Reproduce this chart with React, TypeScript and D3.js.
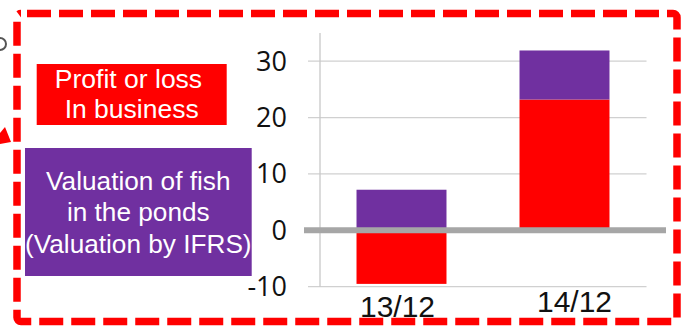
import React from "react";
import * as d3 from "d3";

// Data
const periods = ["13/12", "14/12"];
const profitLoss = [-9.5, 23.2];
const fishValuation = [7.2, 8.7];
const yTicks = [-10, 0, 10, 20, 30];
const seriesKeys = ["profitLoss", "fishValuation"];
const seriesColors = ["#ff0000", "#7030a0"];
const profitLabel = ["Profit or loss", "In business"];
const valuationLabel = ["Valuation of fish", "in the ponds", "(Valuation by IFRS)"];

const W = 686;
const H = 326;

export default function App() {
  const rows = periods.map((p, i) => ({
    period: p,
    profitLoss: profitLoss[i],
    fishValuation: fishValuation[i],
  }));

  const stacked = d3
    .stack<any>()
    .keys(seriesKeys)
    .offset(d3.stackOffsetDiverging)(rows);

  const x = d3
    .scaleBand<string>()
    .domain(periods)
    .range([320, 646])
    .paddingInner(0.448)
    .paddingOuter(0.224);

  const y = d3.scaleLinear().domain([-10, 35]).range([286.7, 33]);

  const tickFont = "'Open Sans', 'Liberation Sans', sans-serif";
  const textFont = "'Liberation Sans', Arial, sans-serif";

  // small per-category nudges of the period labels
  const labelShift = [
    { dx: -4, dy: 5 },
    { dx: 10, dy: 0 },
  ];

  return (
    <div style={{ position: "absolute", left: 0, top: 0 }}>
      <svg width={W} height={H} style={{ display: "block", background: "#fff" }}>
        {/* stray pieces at the left edge */}
        <path d="M0,38 A6,6 0 0 1 0,50" fill="none" stroke="#555" strokeWidth={2} />
        <polygon points="0,133 5,127 11,142 0,144" fill="#ff0000" />

        {/* grid lines */}
        {yTicks
          .filter((t) => t !== 0)
          .map((t) => (
            <line
              key={t}
              x1={308}
              x2={646.5}
              y1={y(t)}
              y2={y(t)}
              stroke="#d0d0d0"
              strokeWidth={1.3}
            />
          ))}
        {/* vertical axis */}
        <line x1={320} x2={320} y1={y(35)} y2={y(-10)} stroke="#c8c8c8" strokeWidth={1.3} />

        {/* tick labels */}
        {yTicks.map((t) => (
          <text
            key={t}
            x={287}
            y={y(t) + 9.5}
            textAnchor="end"
            fontFamily={tickFont}
            fontSize={27}
            fill="#111"
          >
            {t}
          </text>
        ))}

        {/* stacked bars */}
        {stacked.map((s, si) =>
          s.map((d, i) => (
            <rect
              key={`${si}-${i}`}
              x={x(periods[i])}
              width={x.bandwidth()}
              y={y(Math.max(d[0], d[1]))}
              height={Math.abs(y(d[0]) - y(d[1]))}
              fill={seriesColors[si]}
            />
          ))
        )}

        {/* zero line */}
        <line x1={304} x2={666} y1={y(0)} y2={y(0)} stroke="#a6a6a6" strokeWidth={6} />

        {/* period labels */}
        {periods.map((p, i) => (
          <text
            key={p}
            x={(x(p) as number) + x.bandwidth() / 2 + labelShift[i].dx}
            y={312 + labelShift[i].dy}
            textAnchor="middle"
            fontFamily={textFont}
            fontSize={30}
            fill="#111"
          >
            {p}
          </text>
        ))}

        {/* legend boxes */}
        <rect x={36.7} y={64} width={190} height={61} fill={seriesColors[0]} />
        {profitLabel.map((l, i) => (
          <text
            key={l}
            x={i === 0 ? 128.5 : 131.7}
            y={88.3 + i * 30}
            textAnchor="middle"
            fontFamily={textFont}
            fontSize={26.5}
            fill="#fff"
          >
            {l}
          </text>
        ))}
        <rect x={25} y={148} width={226.7} height={128} fill={seriesColors[1]} />
        {valuationLabel.map((l, i) => (
          <text
            key={l}
            x={138.3}
            y={189.7 + i * 31.7}
            textAnchor="middle"
            fontFamily={textFont}
            fontSize={26.2}
            fill="#fff"
          >
            {l}
          </text>
        ))}

        {/* dashed frame */}
        <rect
          x={17}
          y={13.5}
          width={660}
          height={308}
          rx={4}
          fill="none"
          stroke="#ff0000"
          strokeWidth={7.5}
          strokeDasharray="24 8"
          strokeDashoffset={-6}
        />
      </svg>
    </div>
  );
}
